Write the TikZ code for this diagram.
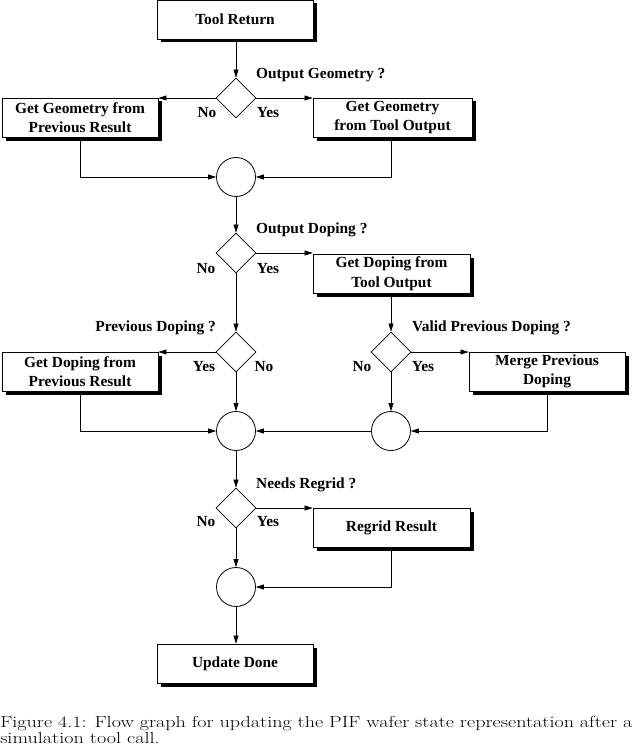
\documentclass[tikz,border=0pt]{standalone}
\usepackage{fontspec}
\usetikzlibrary{shapes.geometric,shadows,arrows.meta,calc}
\newfontfamily\lblfont{Liberation Serif}
\begin{document}
\begin{tikzpicture}[x=1pt,y=-1pt,
  lbl/.style={font=\lblfont\bfseries\fontsize{15.4}{19.5}\selectfont},
  procbox/.style={lbl,draw,fill=white,line width=0.8pt,minimum width=156pt,minimum height=39pt,
    align=center,inner sep=0pt,
    drop shadow={shadow xshift=3.5pt,shadow yshift=-3.5pt,fill=black,opacity=1}},
  decide/.style={diamond,draw,aspect=1,minimum size=40pt,inner sep=0pt,line width=0.8pt},
  joincirc/.style={circle,draw,minimum size=39pt,inner sep=0pt,line width=0.8pt},
  txt/.style={lbl,inner sep=0pt},
  arr/.style={line width=0.7pt,-{Triangle[length=8pt,width=5pt]}}]
\useasboundingbox (0,0) rectangle (632,749);

% nodes
\node[procbox] (tr) at (235,19.5) {Tool Return};
\node[decide] (d1) at (236,98) {};
\node[procbox] (gp) at (80,117.5) {Get Geometry from\\Previous Result};
\node[procbox,minimum width=159pt] (gt) at (392.5,117.5) {Get Geometry\\from Tool Output};
\node[joincirc] (c1) at (236,177) {};
\node[decide] (d2) at (236,253) {};
\node[procbox,minimum width=157pt] (gdt) at (391.5,273.5) {Get Doping from\\Tool Output};
\node[decide] (d3) at (236,352) {};
\node[decide] (d4) at (391,352) {};
\node[procbox] (gdp) at (80,371.5) {Get Doping from\\Previous Result};
\node[procbox] (mp) at (547,371.5) {Merge Previous\\Doping};
\node[joincirc] (c2) at (236,431) {};
\node[joincirc] (c3) at (391,431) {};
\node[decide] (d5) at (236,508) {};
\node[procbox,minimum width=157pt] (rr) at (391.5,527.5) {Regrid Result};
\node[joincirc] (c4) at (236,587) {};
\node[procbox] (ud) at (235,663.5) {Update Done};

% labels
\node[txt,anchor=west] (l1) at (256,75) {Output Geometry ?};
\node[txt] (n1) at (207,113) {No};
\node[txt] (y1) at (268,113) {Yes};
\node[txt,anchor=west] (l2) at (256,230) {Output Doping ?};
\node[txt] (n2) at (206,269) {No};
\node[txt] (y2) at (268,269) {Yes};
\node[txt,anchor=east] (l3) at (216,328) {Previous Doping ?};
\node[txt] (y3) at (204,367) {Yes};
\node[txt] (n3) at (264,367) {No};
\node[txt,anchor=west] (l4) at (412,328) {Valid Previous Doping ?};
\node[txt] (n4) at (362,367) {No};
\node[txt] (y4) at (423,367) {Yes};
\node[txt,anchor=west] (l5) at (256,485) {Needs Regrid ?};
\node[txt] (n5) at (206,522) {No};
\node[txt] (y5) at (268,522) {Yes};

% connectors
\draw[arr] (d1.north |- tr.south) -- (d1.north);
\draw[arr] (d1.west) -- (d1.west -| gp.east);
\draw[arr] (d1.east) -- (d1.east -| gt.west);
\draw[arr] (gp.south) |- (c1.west);
\draw[arr] (gt.south) ++(-1,0) |- (c1.east);
\draw[arr] (c1.south) -- (d2.north);
\draw[arr] (d2.east) -- (d2.east -| gdt.west);
\draw[arr] (d2.south) -- (d3.north);
\draw[arr] (gdt.south -| d4.north) -- (d4.north);
\draw[arr] (d3.west) -- (d3.west -| gdp.east);
\draw[arr] (d4.east) -- (d4.east -| mp.west);
\draw[arr] (d3.south) -- (c2.north);
\draw[arr] (d4.south) -- (c3.north);
\draw[arr] (gdp.south) |- (c2.west);
\draw[arr] (mp.south) |- (c3.east);
\draw[arr] (c3.west) -- (c2.east);
\draw[arr] (c2.south) -- (d5.north);
\draw[arr] (d5.east) -- (d5.east -| rr.west);
\draw[arr] (d5.south) -- (c4.north);
\draw[arr] (rr.south -| c3.south) |- (c4.east);
\draw[arr] (c4.south) -- (c4.south |- ud.north);

% caption
\node[anchor=north west,inner sep=0pt,text width=502pt,align=justify,
  transform shape,xscale=1.259,
  font=\fontsize{16}{16}\selectfont] (cap) at (0,716.5)
  {Figure 4.1: Flow graph for updating the PIF wafer state representation after a\linebreak simulation tool call.};
\end{tikzpicture}
\end{document}
